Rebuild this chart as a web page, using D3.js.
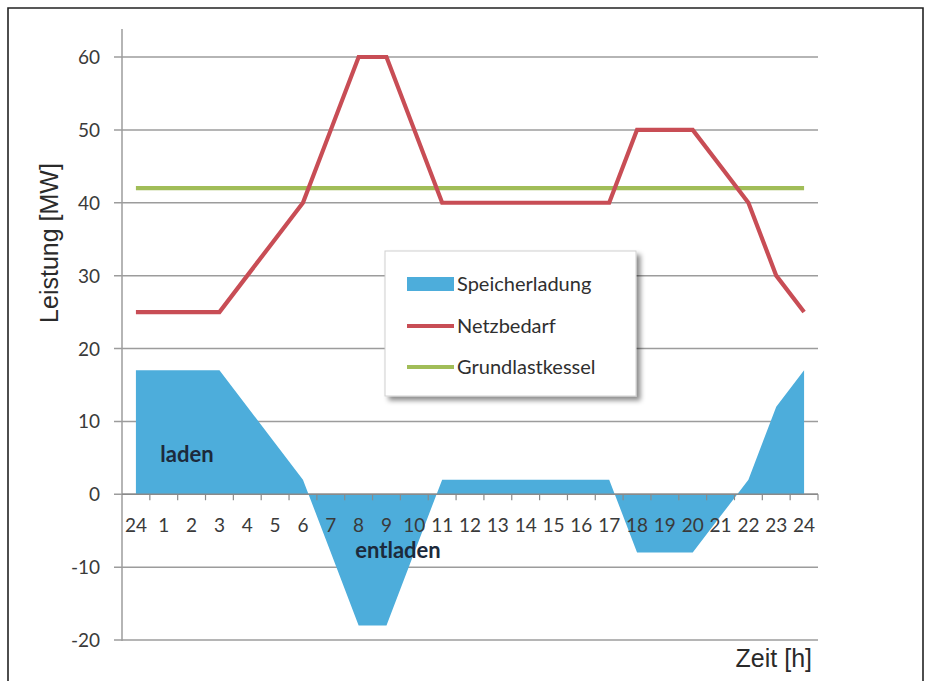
<!DOCTYPE html>
<html>
<head>
<meta charset="utf-8">
<script src="https://cdn.jsdelivr.net/npm/d3@7"></script>
<style>
  html, body { margin: 0; padding: 0; background: #fff; }
  svg { display: block; }
</style>
</head>
<body>
<svg id="chart" width="928" height="681"></svg>
<script>
// Hours of the day (starting and ending at 24)
const hours = ["24","1","2","3","4","5","6","7","8","9","10","11","12","13","14","15","16","17","18","19","20","21","22","23","24"];
// Grid demand in MW
const netzbedarf = [25,25,25,25,30,35,40,50,60,60,50,40,40,40,40,40,40,40,50,50,50,45,40,30,25];
// Base-load boiler output in MW
const grundlast = [42,42,42,42,42,42,42,42,42,42,42,42,42,42,42,42,42,42,42,42,42,42,42,42,42];
// Storage charge (+) / discharge (-) in MW
const speicher = [17,17,17,17,12,7,2,-8,-18,-18,-8,2,2,2,2,2,2,2,-8,-8,-8,-3,2,12,17];
// Value axis ticks
const yTicks = [-20,-10,0,10,20,30,40,50,60];

const svg = d3.select("#chart");
const tickFont = "Lato, 'Open Sans', sans-serif";
const textCol = "#3a3a3a";

// Outer frame
svg.append("rect").attr("x", 0).attr("y", 0).attr("width", 928).attr("height", 681).attr("fill", "#fff");
svg.append("path")
  .attr("d", "M8,690 L8,8 L923,8 L923,690")
  .attr("fill", "none").attr("stroke", "#222").attr("stroke-width", 1.6);

// Scales
const x = d3.scaleBand().domain(d3.range(hours.length)).range([122, 818]).padding(0);
const cx = i => x(i) + x.bandwidth() / 2;
const y = d3.scaleLinear().domain([-20, 60]).range([640, 57]);

// Horizontal gridlines with left tick marks
const grid = svg.append("g");
grid.selectAll("line").data(yTicks).join("line")
  .attr("x1", 114).attr("x2", 818)
  .attr("y1", d => y(d)).attr("y2", d => y(d))
  .attr("stroke", "#9c9c9c").attr("stroke-width", 1.5);

// Vertical value axis line
svg.append("line").attr("x1", 122).attr("x2", 122).attr("y1", 29).attr("y2", y(-20) + 1)
  .attr("stroke", "#9c9c9c").attr("stroke-width", 1.5);

// Value axis labels
svg.append("g").selectAll("text").data(yTicks).join("text")
  .attr("x", 100).attr("y", d => y(d) + 7)
  .attr("text-anchor", "end")
  .attr("font-family", tickFont).attr("font-size", 19).attr("fill", textCol)
  .text(d => d);

// Storage area (charging above zero, discharging below)
const area = d3.area().x((d, i) => cx(i)).y0(y(0)).y1(d => y(d));
svg.append("path").datum(speicher)
  .attr("d", area)
  .attr("fill", "#4DADDB");

// Category axis on the zero line
const xAxisG = svg.append("g");
xAxisG.append("line").attr("x1", 122).attr("x2", 818).attr("y1", y(0)).attr("y2", y(0))
  .attr("stroke", "#8a8a8a").attr("stroke-width", 1.5);
xAxisG.selectAll("line.tick").data(d3.range(1, hours.length + 1)).join("line")
  .attr("class", "tick")
  .attr("x1", i => x.range()[0] + i * x.bandwidth())
  .attr("x2", i => x.range()[0] + i * x.bandwidth())
  .attr("y1", y(0)).attr("y2", y(0) + 6)
  .attr("stroke", "#8a8a8a").attr("stroke-width", 1.2);
xAxisG.selectAll("text").data(hours).join("text")
  .attr("x", (d, i) => cx(i)).attr("y", 532)
  .attr("text-anchor", "middle")
  .attr("font-family", tickFont).attr("font-size", 19).attr("fill", textCol)
  .text(d => d);

// Base-load boiler line
const line = d3.line().x((d, i) => cx(i)).y(d => y(d));
svg.append("path").datum(grundlast)
  .attr("d", line).attr("fill", "none")
  .attr("stroke", "#A1BD58").attr("stroke-width", 4.2);

// Grid demand line
svg.append("path").datum(netzbedarf)
  .attr("d", line).attr("fill", "none")
  .attr("stroke", "#C84D55").attr("stroke-width", 4.2)
  .attr("stroke-linejoin", "miter");

// Area annotations
svg.append("text").attr("x", 187).attr("y", 462).attr("text-anchor", "middle")
  .attr("font-family", tickFont).attr("font-weight", "bold").attr("font-size", 22)
  .attr("fill", "#1c2a3b").text("laden");
svg.append("text").attr("x", 398).attr("y", 558).attr("text-anchor", "middle")
  .attr("font-family", tickFont).attr("font-weight", "bold").attr("font-size", 22)
  .attr("fill", "#1c2a3b").text("entladen");

// Axis titles
svg.append("text")
  .attr("transform", "translate(58,243) rotate(-90)")
  .attr("text-anchor", "middle")
  .attr("font-family", "'Liberation Sans', Arial, sans-serif").attr("font-size", 25)
  .attr("fill", "#2a2a2a").text("Leistung [MW]");
svg.append("text")
  .attr("x", 812).attr("y", 667).attr("text-anchor", "end")
  .attr("font-family", "'Liberation Sans', Arial, sans-serif").attr("font-size", 25)
  .attr("fill", "#2a2a2a").text("Zeit [h]");

// Legend with drop shadow
const defs = svg.append("defs");
const f = defs.append("filter").attr("id", "shadow").attr("x", "-10%").attr("y", "-10%").attr("width", "130%").attr("height", "130%");
f.append("feDropShadow").attr("dx", 4).attr("dy", 4).attr("stdDeviation", 2.5)
  .attr("flood-color", "#000").attr("flood-opacity", 0.45);

const legend = svg.append("g");
legend.append("rect").attr("x", 385).attr("y", 251).attr("width", 251).attr("height", 145)
  .attr("fill", "#fff").attr("stroke", "#d0d0d0").attr("stroke-width", 1)
  .attr("filter", "url(#shadow)");

const legendItems = [
  { name: "Speicherladung", type: "area", color: "#4DADDB", ly: 284 },
  { name: "Netzbedarf", type: "line", color: "#C84D55", ly: 326 },
  { name: "Grundlastkessel", type: "line", color: "#A1BD58", ly: 367 }
];
legendItems.forEach(it => {
  if (it.type === "area") {
    legend.append("rect").attr("x", 407).attr("y", it.ly - 7).attr("width", 47).attr("height", 14)
      .attr("fill", it.color);
  } else {
    legend.append("line").attr("x1", 407).attr("x2", 454).attr("y1", it.ly).attr("y2", it.ly)
      .attr("stroke", it.color).attr("stroke-width", 4.2);
  }
  legend.append("text").attr("x", 457).attr("y", it.ly + 7)
    .attr("font-family", tickFont).attr("font-size", 20).attr("fill", "#2f2f2f")
    .text(it.name);
});
</script>
</body>
</html>
